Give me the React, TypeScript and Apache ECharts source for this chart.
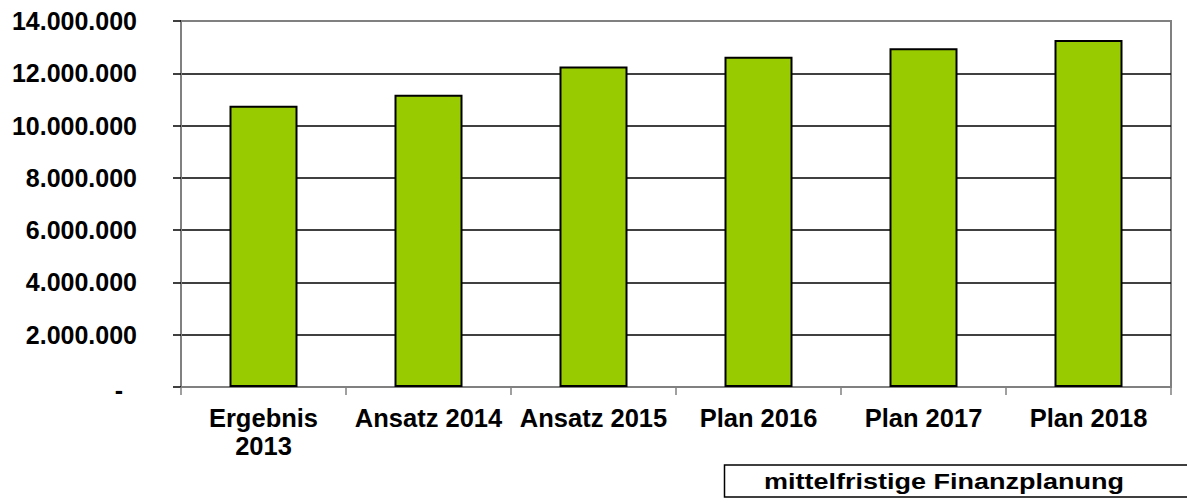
import React, { useEffect, useRef } from "react";
import * as echarts from "echarts";

const categories = ["Ergebnis\n2013", "Ansatz 2014", "Ansatz 2015", "Plan 2016", "Plan 2017", "Plan 2018"];
const values = [10760000, 11180000, 12260000, 12630000, 12960000, 13270000];
const yMin = 0;
const yMax = 14000000;
const yStep = 2000000;
const boxLabel = "mittelfristige Finanzplanung";

const FONT = "'Liberation Sans', Arial, sans-serif";

function fmt(v: number): string {
  if (v === 0) return "{z|-}";
  return String(Math.round(v)).replace(/\B(?=(\d{3})+(?!\d))/g, ".");
}

export default function App() {
  const ref = useRef<HTMLDivElement>(null);
  useEffect(() => {
    if (!ref.current) return;
    const chart = echarts.init(ref.current, null, { renderer: "svg" });
    chart.setOption({
      animation: false,
      backgroundColor: "#ffffff",
      grid: {
        left: 181,
        top: 21,
        right: 16,
        bottom: 116,
        show: true,
        borderColor: "#808080",
        borderWidth: 2,
        backgroundColor: "transparent",
      },
      xAxis: {
        type: "category",
        data: categories,
        axisLine: { show: true, lineStyle: { color: "#808080", width: 2 } },
        axisTick: { show: true, length: 8, lineStyle: { color: "#808080", width: 1.5 } },
        axisLabel: {
          interval: 0,
          margin: 17,
          fontFamily: FONT,
          fontWeight: "bold",
          fontSize: 25.5,
          lineHeight: 28,
          color: "#000",
        },
      },
      yAxis: {
        type: "value",
        min: yMin,
        max: yMax,
        interval: yStep,
        axisLine: { show: true, lineStyle: { color: "#808080", width: 2 } },
        axisTick: { show: true, length: 8, lineStyle: { color: "#000", width: 1.5 } },
        splitLine: {
          show: true,
          showMinLine: false,
          showMaxLine: false,
          lineStyle: { color: "#000", width: 1.5 },
        },
        axisLabel: {
          margin: 44,
          fontFamily: FONT,
          fontWeight: "bold",
          fontSize: 25,
          color: "#000",
          formatter: fmt,
          rich: {
            z: {
              fontFamily: FONT,
              fontWeight: "bold",
              fontSize: 25,
              color: "#000",
              padding: [5, 14, 0, 0],
            },
          },
        },
      },
      series: [
        {
          type: "bar",
          data: values,
          barWidth: 68,
          itemStyle: { color: "#99CC00", borderColor: "#000", borderWidth: 2 },
        },
      ],
      graphic: [
        {
          type: "rect",
          shape: { x: 724.5, y: 465, width: 480, height: 32 },
          style: { fill: "none", stroke: "#000", lineWidth: 1.5 },
        },
        {
          type: "text",
          x: 764,
          y: 481,
          scaleX: 1.2,
          style: {
            text: boxLabel,
            font: "bold 22.5px 'Liberation Sans', Arial, sans-serif",
            fill: "#000",
            align: "left",
            verticalAlign: "middle",
          },
        },
      ],
    });
    return () => chart.dispose();
  }, []);
  return (
    <div
      ref={ref}
      style={{ position: "fixed", left: 0, top: 0, width: 1187, height: 503, background: "#fff" }}
    />
  );
}
